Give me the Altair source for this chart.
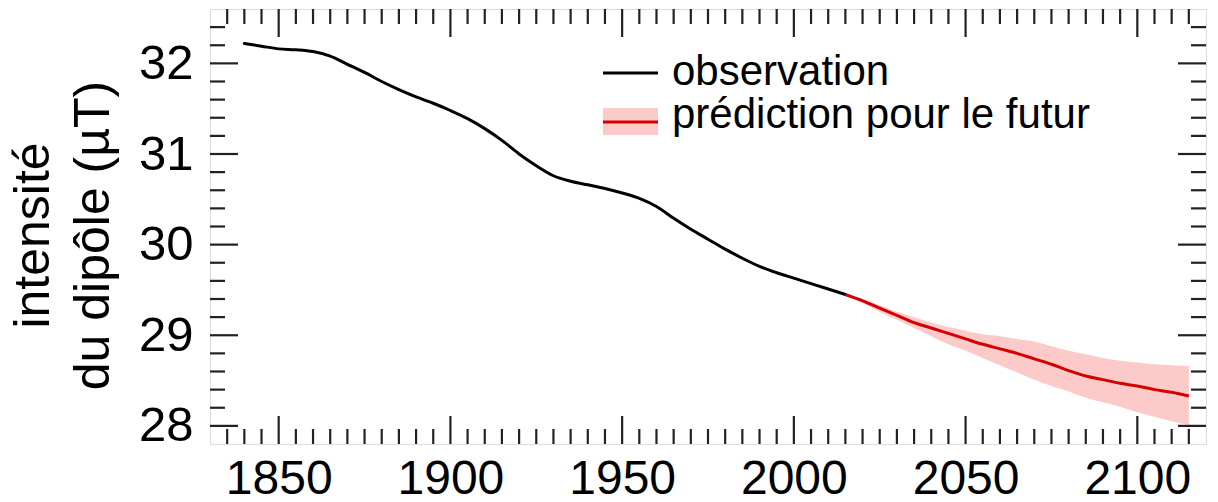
import altair as alt
import pandas as pd

# ---- data ----
obs_years = [1840, 1845, 1850, 1855, 1860, 1865, 1870, 1875, 1880, 1885, 1890, 1895,
             1900, 1905, 1910, 1915, 1920, 1925, 1930, 1935, 1940, 1945, 1950, 1955,
             1960, 1965, 1970, 1975, 1980, 1985, 1990, 1995, 2000, 2005, 2010, 2015]
obs_values = [32.22, 32.19, 32.16, 32.15, 32.13, 32.08, 31.99, 31.90, 31.80, 31.71, 31.63, 31.56,
              31.48, 31.39, 31.28, 31.15, 31.00, 30.87, 30.76, 30.70, 30.66, 30.62, 30.57, 30.51,
              30.42, 30.29, 30.17, 30.06, 29.95, 29.85, 29.76, 29.69, 29.63, 29.57, 29.51, 29.45]

pred_years = [2015, 2020, 2025, 2030, 2035, 2040, 2045, 2050, 2055, 2060, 2065,
              2070, 2075, 2080, 2085, 2090, 2095, 2100, 2105, 2110, 2115]
pred_values = [29.45, 29.38, 29.30, 29.22, 29.14, 29.08, 29.02, 28.96, 28.90, 28.85, 28.80,
               28.74, 28.68, 28.61, 28.55, 28.51, 28.47, 28.44, 28.40, 28.37, 28.33]
pred_upper = [29.45, 29.40, 29.33, 29.26, 29.20, 29.14, 29.09, 29.05, 29.01, 28.99, 28.96,
              28.93, 28.88, 28.83, 28.79, 28.75, 28.72, 28.70, 28.68, 28.67, 28.66]
pred_lower = [29.45, 29.36, 29.26, 29.17, 29.08, 28.99, 28.90, 28.83, 28.75, 28.67, 28.59,
              28.51, 28.44, 28.38, 28.31, 28.26, 28.21, 28.15, 28.10, 28.05, 28.01]

x_major = [1850, 1900, 1950, 2000, 2050, 2100]
x_minor = [y for y in range(1835, 2120, 5) if y not in x_major]
y_major = [28, 29, 30, 31, 32]
y_minor = [round(27.8 + 0.2 * i, 1) for i in range(1, 24)]
y_minor = [v for v in y_minor if abs(v - round(v)) > 1e-6]

legend_labels = ["observation", "prédiction pour le futur"]
y_title = ["intensité", "du dipôle (µT)"]

# ---- layout ----
W, H = 996, 435
FONT = "Liberation Sans"
MAJ, MIN = 28, 15

obs_df = pd.DataFrame({"year": obs_years, "value": obs_values})
pred_df = pd.DataFrame({"year": pred_years, "value": pred_values,
                        "hi": pred_upper, "lo": pred_lower})

xs = alt.Scale(domain=[1830, 2120], nice=False, zero=False)
ys = alt.Scale(domain=[27.8, 32.6], nice=False, zero=False)

xaxis = alt.Axis(values=x_major, format="d", ticks=False, domain=False, grid=False,
                 labelFontSize=48, labelFont=FONT, labelColor="black", labelPadding=11,
                 title=None, labelFlush=False)
yaxis = alt.Axis(values=y_major, format="d", ticks=False, domain=False, grid=False,
                 labelFontSize=49, labelFont=FONT, labelColor="black", labelPadding=17,
                 title=y_title, titleFont=FONT, titleFontSize=50, titleFontWeight="normal",
                 titleColor="black", titleLineHeight=60, titleX=-152, titleY=226,
                 titleBaseline="bottom", titleAngle=270, titleAlign="center")

X = lambda f="year": alt.X(f"{f}:Q", scale=xs, axis=xaxis)
Y = lambda f="value": alt.Y(f"{f}:Q", scale=ys, axis=yaxis)

band = alt.Chart(pred_df).mark_area(color="#fdcaca", opacity=1, interpolate="monotone").encode(
    x=X(), y=Y("lo"), y2="hi:Q")
obs_line = alt.Chart(obs_df).mark_line(color="black", strokeWidth=3, strokeCap="round",
                                       interpolate="monotone").encode(x=X(), y=Y())
pred_line = alt.Chart(pred_df).mark_line(color="#d40000", strokeWidth=3,
                                         interpolate="monotone").encode(x=X(), y=Y())

def xticks(vals, length):
    df = pd.DataFrame({"year": vals})
    bottom = alt.Chart(df).mark_rule(color="#222", strokeWidth=2.2).encode(
        x=X(), y=alt.value(H), y2=alt.value(H - length))
    top = alt.Chart(df).mark_rule(color="#222", strokeWidth=2.2).encode(
        x=X(), y=alt.value(0), y2=alt.value(length))
    return [bottom, top]

def yticks(vals, length):
    df = pd.DataFrame({"value": vals})
    left = alt.Chart(df).mark_rule(color="#222", strokeWidth=2.2).encode(
        y=Y(), x=alt.value(0), x2=alt.value(length))
    right = alt.Chart(df).mark_rule(color="#222", strokeWidth=2.2).encode(
        y=Y(), x=alt.value(W), x2=alt.value(W - length))
    return [left, right]

tick_layers = xticks(x_major, MAJ) + xticks(x_minor, MIN) + yticks(y_major, MAJ) + yticks(y_minor, MIN)

# ---- legend ----
leg_df = pd.DataFrame({"label": legend_labels})
leg_obs_line = alt.Chart(leg_df.iloc[[0]]).mark_rule(color="black", strokeWidth=3).encode(
    x=alt.value(393), x2=alt.value(448), y=alt.value(64))
leg_band = alt.Chart(leg_df.iloc[[1]]).mark_rect(color="#fdcaca").encode(
    x=alt.value(393), x2=alt.value(448), y=alt.value(99), y2=alt.value(126))
leg_pred_line = alt.Chart(leg_df.iloc[[1]]).mark_rule(color="#d40000", strokeWidth=3).encode(
    x=alt.value(393), x2=alt.value(448), y=alt.value(113))
leg_text1 = alt.Chart(leg_df.iloc[[0]]).mark_text(
    align="left", baseline="alphabetic", font=FONT, fontSize=42, color="black").encode(
    x=alt.value(462), y=alt.value(76), text="label:N")
leg_text2 = alt.Chart(leg_df.iloc[[1]]).mark_text(
    align="left", baseline="alphabetic", font=FONT, fontSize=42, color="black").encode(
    x=alt.value(462), y=alt.value(119), text="label:N")

chart = alt.layer(
    band, obs_line, pred_line, *tick_layers,
    leg_band, leg_pred_line, leg_obs_line, leg_text1, leg_text2
).properties(
    width=W, height=H,
    autosize=alt.AutoSizeParams(type="none"),
    padding={"left": 210, "top": 9, "right": 12, "bottom": 58},
).configure_view(
    stroke="black", strokeWidth=2.5
).configure(background="white")

chart.save("out.html", embed_options={"renderer": "svg", "actions": False})
